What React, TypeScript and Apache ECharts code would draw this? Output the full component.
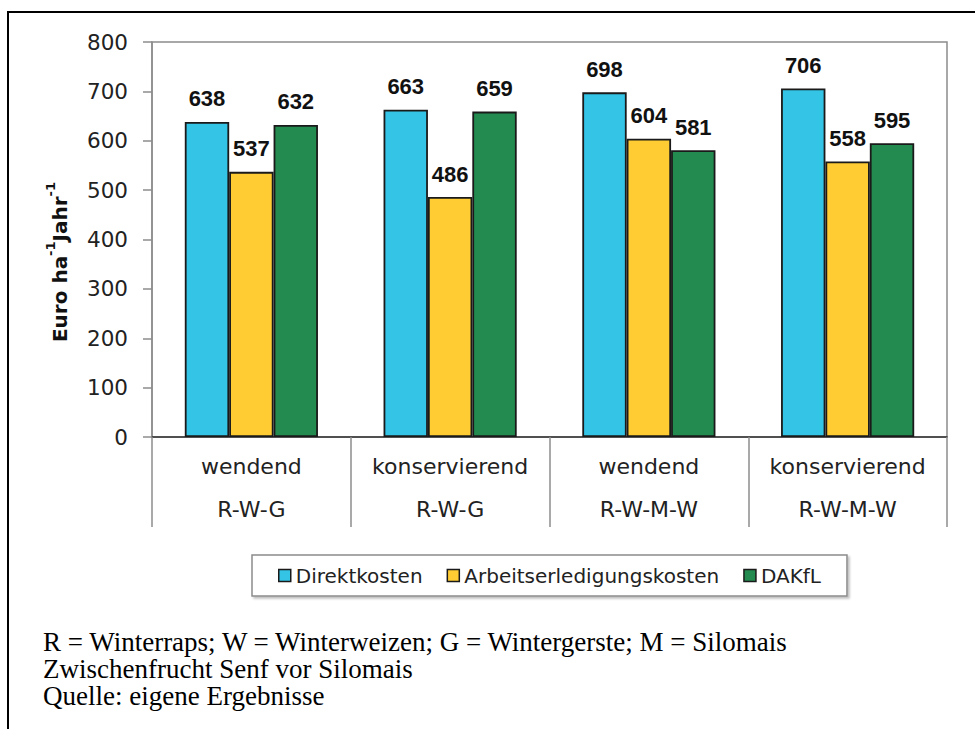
import React, { useEffect, useRef } from 'react';
import * as echarts from 'echarts';

const tillage = ['wendend', 'konservierend', 'wendend', 'konservierend'];
const rotations = ['R-W-G', 'R-W-G', 'R-W-M-W', 'R-W-M-W'];
const seriesNames = ['Direktkosten', 'Arbeitserledigungskosten', 'DAKfL'];
const direktkosten = [638, 663, 698, 706];
const arbeitserledigungskosten = [537, 486, 604, 558];
const dakfl = [632, 659, 581, 595];
const yMin = 0;
const yMax = 800;
const yStep = 100;
const footnotes = [
  'R = Winterraps; W = Winterweizen; G = Wintergerste; M = Silomais',
  'Zwischenfrucht Senf vor Silomais',
  'Quelle: eigene Ergebnisse',
];

const colors = ['#33C4E6', '#FFCC33', '#238B4F'];
const SANS = '"DejaVu Sans", sans-serif';
const ARIAL = '"Liberation Sans", Arial, sans-serif';

export default function App() {
  const ref = useRef<HTMLDivElement>(null);
  useEffect(() => {
    if (!ref.current) return;
    const chart = echarts.init(ref.current, undefined, { renderer: 'svg' });
    const categories = tillage.map((t, i) => t + '\n' + rotations[i]);
    const values = [direktkosten, arbeitserledigungskosten, dakfl];
    chart.setOption({
      animation: false,
      backgroundColor: '#fff',
      grid: {
        left: 152,
        top: 42,
        width: 795,
        height: 395,
        show: true,
        borderColor: '#8c8c8c',
        borderWidth: 1.5,
        backgroundColor: 'transparent',
      },
      legend: {
        left: 252,
        top: 555,
        data: seriesNames,
        icon: 'rect',
        itemWidth: 12,
        itemHeight: 12,
        itemGap: 24,
        padding: [8, 26, 8, 26],
        borderColor: '#8c8c8c',
        borderWidth: 1.5,
        shadowColor: 'rgba(0,0,0,0.25)',
        shadowBlur: 2,
        shadowOffsetX: 2,
        shadowOffsetY: 2,
        backgroundColor: '#fff',
        itemStyle: { borderColor: '#1a1a1a', borderWidth: 1.5 },
        textStyle: { fontFamily: SANS, fontSize: 20, color: '#222', lineHeight: 25 },
      },
      xAxis: {
        type: 'category',
        data: categories,
        axisLine: { show: true, lineStyle: { color: '#333', width: 1.5 } },
        axisTick: { show: true, interval: 0, length: 90, lineStyle: { color: '#8c8c8c', width: 1.5 } },
        axisLabel: {
          interval: 0,
          fontFamily: SANS,
          fontSize: 22,
          color: '#222',
          lineHeight: 43,
          margin: 8,
        },
      },
      yAxis: {
        type: 'value',
        min: yMin,
        max: yMax,
        interval: yStep,
        splitLine: { show: false },
        axisLine: { show: true, lineStyle: { color: '#8c8c8c', width: 1.5 } },
        axisTick: { show: true, length: 9, lineStyle: { color: '#8c8c8c', width: 1.5 } },
        axisLabel: { fontFamily: SANS, fontSize: 21.5, color: '#222', margin: 24 },
      },
      series: seriesNames.map((name, i) => ({
        name,
        type: 'bar',
        data: values[i],
        barGap: '0%',
        barCategoryGap: '33%',
        itemStyle: { color: colors[i], borderColor: '#1a1a1a', borderWidth: 1.8 },
        label: {
          show: true,
          position: 'top',
          distance: 12,
          fontFamily: ARIAL,
          fontWeight: 'bold',
          fontSize: 22,
          color: '#111',
        },
      })),
      graphic: [
        { type: 'line', shape: { x1: 7, y1: 12, x2: 975, y2: 12 }, style: { stroke: '#000', lineWidth: 2 } },
        { type: 'line', shape: { x1: 8, y1: 11, x2: 8, y2: 729 }, style: { stroke: '#000', lineWidth: 2 } },
        {
          type: 'text',
          x: 57,
          y: 262,
          rotation: Math.PI / 2,
          style: {
            text: '{b|Euro ha}{s|-1}{b|Jahr}{s|-1}',
            align: 'center',
            verticalAlign: 'middle',
            rich: {
              b: { fontFamily: SANS, fontWeight: 'bold', fontSize: 20, fill: '#111', lineHeight: 26, verticalAlign: 'bottom' },
              s: { fontFamily: SANS, fontWeight: 'bold', fontSize: 13, fill: '#111', lineHeight: 26, verticalAlign: 'top' },
            },
          },
        },
        ...footnotes.map((t, i) => ({
          type: 'text',
          x: 43,
          y: 642 + i * 27,
          style: {
            text: t,
            fontFamily: '"Liberation Serif", "Times New Roman", serif',
            fontSize: 27,
            fill: '#000',
            verticalAlign: 'middle',
            align: 'left',
          },
        })),
      ],
    });
    return () => chart.dispose();
  }, []);
  return (
    <div
      ref={ref}
      style={{ position: 'fixed', left: 0, top: 0, width: 975, height: 729, background: '#fff' }}
    />
  );
}
